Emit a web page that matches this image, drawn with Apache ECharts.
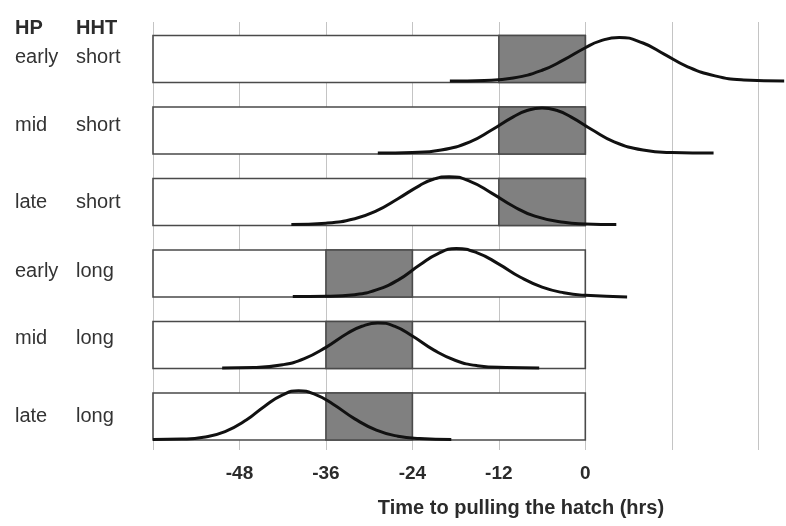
<!DOCTYPE html>
<html>
<head>
<meta charset="utf-8">
<script src="https://cdn.jsdelivr.net/npm/echarts@6/dist/echarts.min.js"></script>
<style>html,body{margin:0;padding:0;background:#fff}#c{width:786px;height:526px}</style>
</head>
<body>
<div id="c"></div>
<script>
// ---- data ----
const hpLabels  = ['early', 'mid', 'late', 'early', 'mid', 'late'];
const hhtLabels = ['short', 'short', 'short', 'long', 'long', 'long'];
const panelStart = -60, panelEnd = 0;
const blockStart = [-12, -12, -12, -36, -36, -36];
const blockEnd   = [0, 0, 0, -24, -24, -24];
const xTickLabels = [-48, -36, -24, -12, 0];
const axisTitle = 'Time to pulling the hatch (hrs)';

// curves: [hours, height as fraction of panel height]
const curveEarlyShort = [[-18.8,0.03],[-14,0.043],[-10,0.096],[-6,0.26],[-3,0.48],[0,0.74],[2,0.88],[4.7,0.96],[8,0.84],[11,0.60],[14,0.35],[18,0.14],[22,0.054],[27.6,0.03]];
const curveMidShort   = [[-28.8,0.02],[-24,0.031],[-20,0.085],[-16,0.26],[-13,0.51],[-10,0.79],[-8,0.93],[-6,0.98],[-4,0.93],[-2,0.79],[1,0.51],[4,0.26],[8,0.085],[12,0.031],[17.8,0.02]];
const curveLateShort  = [[-40.8,0.02],[-36,0.049],[-32,0.145],[-29,0.31],[-26,0.57],[-23,0.85],[-21,0.99],[-18.9,1.04],[-16,0.94],[-13,0.69],[-10,0.41],[-7,0.20],[-3,0.067],[0,0.033],[4.3,0.02]];
const curveEarlyLong  = [[-40.6,0.01],[-36,0.015],[-32,0.05],[-29,0.15],[-26,0.36],[-23,0.68],[-20.5,0.92],[-17.9,1.03],[-15,0.94],[-12,0.70],[-9,0.42],[-6,0.21],[-3,0.09],[0,0.035],[5.8,0.0]];
const curveMidLong    = [[-50.4,0.01],[-46,0.02],[-42,0.08],[-39,0.21],[-36,0.45],[-33,0.75],[-31,0.90],[-28.8,0.97],[-26.5,0.90],[-24,0.69],[-21,0.39],[-18,0.17],[-15,0.06],[-11,0.02],[-6.4,0.01]];
const curveLateLong   = [[-60,0.01],[-56,0.02],[-53,0.06],[-50,0.18],[-47,0.43],[-44.5,0.72],[-42,0.96],[-39.8,1.05],[-37.5,0.97],[-35,0.76],[-32,0.45],[-29,0.21],[-26,0.08],[-23,0.03],[-18.6,0.01]];
const curves = [curveEarlyShort, curveMidShort, curveLateShort, curveEarlyLong, curveMidLong, curveLateLong];

// ---- layout ----
const nRows = hpLabels.length;
const panelH = 0.657;                      // panel height in row-pitch units
const rowBase = i => nRows - 1 - i;        // top row has highest base
const labelY = [57, 125, 202, 271, 338, 416];

const panelData = hpLabels.map((_, i) => [panelStart, panelEnd, rowBase(i), rowBase(i) + panelH]);
const blockData = hpLabels.map((_, i) => [blockStart[i], blockEnd[i], rowBase(i), rowBase(i) + panelH]);

function rectRender(fill) {
  return function (params, api) {
    const p0 = api.coord([api.value(0), api.value(3)]);
    const p1 = api.coord([api.value(1), api.value(2)]);
    return {
      type: 'rect',
      shape: { x: p0[0], y: p0[1], width: p1[0] - p0[0], height: p1[1] - p0[1] },
      style: { fill: fill, stroke: '#4a4a4a', lineWidth: 1.6 }
    };
  };
}

const series = [
  { type: 'custom', renderItem: rectRender('#ffffff'), data: panelData,
    encode: { x: [0, 1], y: [2, 3] }, z: 1, silent: true },
  { type: 'custom', renderItem: rectRender('#808080'), data: blockData,
    encode: { x: [0, 1], y: [2, 3] }, z: 2, silent: true }
];
curves.forEach((c, i) => {
  series.push({
    type: 'line', smooth: 0.5, showSymbol: false, clip: false, z: 3,
    lineStyle: { color: '#111', width: 3 },
    data: c.map(p => [p[0], rowBase(i) + p[1] * panelH])
  });
});

const font = '"Liberation Sans", Arial, sans-serif';
const graphics = [
  { type: 'text', style: { text: 'HP', x: 15, y: 28, font: 'bold 20px ' + font, fill: '#2b2b2b', textVerticalAlign: 'middle' } },
  { type: 'text', style: { text: 'HHT', x: 76, y: 28, font: 'bold 20px ' + font, fill: '#2b2b2b', textVerticalAlign: 'middle' } },
  { type: 'text', style: { text: axisTitle, x: 521, y: 508, font: 'bold 20px ' + font, fill: '#2b2b2b', textAlign: 'center', textVerticalAlign: 'middle' } }
];
hpLabels.forEach((t, i) => {
  graphics.push({ type: 'text', style: { text: t, x: 15, y: labelY[i], font: '20px ' + font, fill: '#333', textVerticalAlign: 'middle' } });
  graphics.push({ type: 'text', style: { text: hhtLabels[i], x: 76, y: labelY[i], font: '20px ' + font, fill: '#333', textVerticalAlign: 'middle' } });
});

const chart = echarts.init(document.getElementById('c'), null, { renderer: 'canvas' });
chart.setOption({
  backgroundColor: '#ffffff',
  animation: false,
  grid: { left: 153, right: 1.1, top: 22, bottom: 76 },
  xAxis: {
    type: 'value', min: -60, max: 27.7, interval: 12,
    axisLine: { show: false }, axisTick: { show: false },
    splitLine: { show: true, showMaxLine: false, lineStyle: { color: '#c4c4c4', width: 1 } },
    axisLabel: {
      margin: 14, fontFamily: font, fontSize: 19, fontWeight: 'bold', color: '#2b2b2b',
      showMaxLabel: false,
      formatter: v => xTickLabels.indexOf(v) >= 0 ? String(v) : ''
    }
  },
  yAxis: { type: 'value', min: -0.14, max: 5.846, show: false },
  graphic: graphics,
  series: series
});
</script>
</body>
</html>
